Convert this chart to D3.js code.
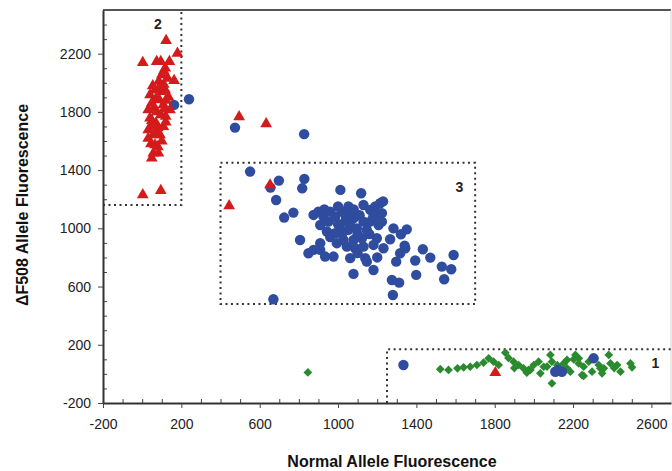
<!DOCTYPE html>
<html>
<head>
<meta charset="utf-8">
<script src="https://cdn.jsdelivr.net/npm/d3@7"></script>
<style>
  body { margin: 0; background: #fff; }
  svg { font-family: "Liberation Sans", Arial, sans-serif; }
</style>
</head>
<body>
<div id="chart"></div>
<script>
// genotype clusters: [normal, deltaF508]
const wildType = [
  [846,10],
  [1522,32],[1564,27],[1610,38],[1641,45],[1675,49],[1709,61],[1743,77],[1769,107],[1794,84],
  [1820,61],[1854,146],[1870,110],[1896,84],[1922,61],[1947,38],[1973,27],[1999,61],[2024,84],
  [2050,49],[2084,130],[2092,84],[2092,-65],[2152,72],[2169,38],[2203,100],[2212,130],[2229,72],
  [2254,49],[2280,84],[2254,-14],[2331,61],[2357,38],[2382,130],[2391,72],[2425,61],[2442,15],
  [2493,72],[2501,45],[2297,15],[2186,15],[2033,4],[1964,8],[1982,27],[2067,50],[2169,96],
  [2229,107],[2246,-8],[2339,38],[2348,4],[2410,40],[2120,60],[1900,40]
];

const heterozygous = [
  [163,1848],[239,1887],[474,1692],[827,1647],
  [551,1390],[698,1328],[655,1280],[684,1195],[828,1340],[817,1275],[1012,1264],[1118,1241],
  [725,1074],[772,1108],[806,920],[849,829],[875,852],[909,852],[934,806],[977,806],
  [875,1092],[900,1115],[926,1080],[960,1115],[951,1046],[909,1023],[985,1080],[1020,1115],
  [1053,1104],[1079,1069],[1036,1046],[1011,989],[985,966],[1053,989],[1096,1000],[1130,1046],
  [1164,1127],[1190,1150],[1215,1172],[1207,1092],[1164,1046],[1207,1023],[1147,989],[1198,932],
  [1122,932],[1079,920],[1028,920],[994,898],[1045,874],[1087,863],[1130,874],[1181,886],
  [1232,863],[909,898],[1062,795],[1139,795],[1147,771],[1181,714],[1079,687],[1053,1150],
  [943,978],[1000,1030],[1060,1030],[1100,960],[960,940],[1020,960],[1110,1090],[1160,960],
  [1040,1080],[1080,1130],[1000,1150],[930,1130],[1130,1160],[1180,1080],
  [1224,1104],[1224,1046],[1283,1000],[1351,993],[1321,959],[1266,925],[1343,863],[1317,829],
  [1297,771],[1433,856],[1471,799],[1394,779],[1399,680],[1275,645],[1312,627],[1280,542],
  [1590,817],[1530,737],[1578,719],[1542,650],[1230,1185],[1340,880],[1100,830],[1200,800],
  [670,513],[1334,61],[2305,107],[2126,27],[2143,15],[2109,15]
];

const homozygous = [
  [122,2290],[180,2203],[3,2139],[74,2146],[95,2146],[139,2146],[118,2100],[101,2054],[163,2015],
  [54,1979],[91,1974],[117,1951],[40,1917],[88,1883],[49,1860],[108,1848],[31,1814],[75,1800],
  [142,1814],[40,1757],[71,1722],[108,1699],[31,1676],[57,1642],[91,1642],[31,1619],[66,1573],
  [57,1516],[83,1516],[49,1482],[3,1230],[95,1259],
  [110,2080],[130,2030],[85,2010],[100,1940],[70,1890],[120,1880],[60,1830],[95,1780],[120,1770],
  [50,1740],[80,1690],[45,1700],[120,1730],[70,1660],[100,1600],[45,1580],[80,1560],[115,1820],
  [135,1900],[65,1950],[110,1990],
  [495,1766],[633,1718],[653,1298],[444,1154],[1803,8]
];

// gating boxes: [x0, x1, y0, y1, label]
const boxes = [
  [1250, 2700, -200, 170, "1"],
  [-200, 200, 1160, 2500, "2"],
  [400, 1700, 480, 1450, "3"]
];
const boxLabels = [[2620, 75], [80, 2400], [1620, 1280]];

const xTicks = [-200, 200, 600, 1000, 1400, 1800, 2200, 2600];
const yTicks = [-200, 200, 600, 1000, 1400, 1800, 2200];

const margin = {top: 10, right: 1, bottom: 68, left: 103};
const width = 672 - margin.left - margin.right;
const height = 471 - margin.top - margin.bottom;

const svg = d3.select("#chart").append("svg")
    .attr("width", 672)
    .attr("height", 471);

const g = svg.append("g")
    .attr("transform", "translate(" + margin.left + "," + margin.top + ")");

const x = d3.scaleLinear().domain([-200, 2700]).range([0, width]);
const y = d3.scaleLinear().domain([-200, 2500]).range([height, 0]);

// frame
g.append("line").attr("x1", 0).attr("x2", width).attr("y1", 0).attr("y2", 0)
    .attr("stroke", "#555").attr("stroke-width", 2);
g.append("line").attr("x1", width).attr("x2", width).attr("y1", 0).attr("y2", height)
    .attr("stroke", "#d4d4d4").attr("stroke-width", 1);

// dotted boxes
boxes.forEach(b => {
  const path = d3.path();
  if (b[4] === "1") {
    path.moveTo(x(b[0]), y(b[2]));
    path.lineTo(x(b[0]), y(b[3]));
    path.lineTo(x(b[1]), y(b[3]));
  } else if (b[4] === "2") {
    path.moveTo(x(b[0]), y(b[2]));
    path.lineTo(x(b[1]), y(b[2]));
    path.lineTo(x(b[1]), y(b[3]));
  } else {
    path.rect(x(b[0]), y(b[3]), x(b[1]) - x(b[0]), y(b[2]) - y(b[3]));
  }
  g.append("path").attr("d", path.toString())
      .attr("fill", "none").attr("stroke", "#333")
      .attr("stroke-width", 2).attr("stroke-dasharray", "2,3.5");
});

g.selectAll(".boxlabel").data(boxes).enter().append("text")
    .attr("class", "boxlabel")
    .attr("x", (d, i) => x(boxLabels[i][0]))
    .attr("y", (d, i) => y(boxLabels[i][1]))
    .attr("text-anchor", "middle").attr("dy", "0.35em")
    .style("font-size", "14px").style("font-weight", "bold").style("fill", "#222")
    .text(d => d[4]);

// points
g.selectAll(".wt").data(wildType).enter().append("path")
    .attr("class", "wt")
    .attr("transform", d => "translate(" + x(d[0]) + "," + y(d[1]) + ") rotate(45)")
    .attr("d", d3.symbol().type(d3.symbolSquare).size(38))
    .attr("fill", "#2a8a2e");

g.selectAll(".het").data(heterozygous).enter().append("circle")
    .attr("class", "het")
    .attr("cx", d => x(d[0]))
    .attr("cy", d => y(d[1]))
    .attr("r", 5.2)
    .attr("fill", "#2f4c9e");

g.selectAll(".hom").data(homozygous).enter().append("path")
    .attr("class", "hom")
    .attr("transform", d => "translate(" + x(d[0]) + "," + y(d[1]) + ")")
    .attr("d", d3.symbol().type(d3.symbolTriangle).size(60))
    .attr("fill", "#d41b1b");

// axes: major ticks outward, minor ticks inward
const xMinor = d3.range(-100, 2700, 100).filter(v => !xTicks.includes(v));
const yMinor = d3.range(-100, 2500, 100).filter(v => !yTicks.includes(v));

g.append("g")
    .attr("transform", "translate(0," + height + ")")
    .call(d3.axisBottom(x).tickValues(xMinor).tickSize(-4).tickSizeOuter(0).tickFormat(""))
    .call(a => a.select(".domain").remove())
    .selectAll("line").attr("stroke", "#444");

g.append("g")
    .call(d3.axisLeft(y).tickValues(yMinor).tickSize(-4).tickSizeOuter(0).tickFormat(""))
    .call(a => a.select(".domain").remove())
    .selectAll("line").attr("stroke", "#444");

const xAxis = g.append("g")
    .attr("transform", "translate(0," + height + ")")
    .call(d3.axisBottom(x).tickValues(xTicks).tickSize(5).tickSizeOuter(0).tickPadding(11).tickFormat(d => String(d)));
xAxis.select(".domain").attr("stroke", "#333").attr("stroke-width", 2);
xAxis.selectAll("line").attr("stroke", "#444");
xAxis.selectAll("text").style("font-size", "14px").style("fill", "#222");

const yAxis = g.append("g")
    .call(d3.axisLeft(y).tickValues(yTicks).tickSize(5).tickSizeOuter(0).tickPadding(7).tickFormat(d => String(d)));
yAxis.select(".domain").attr("stroke", "#333").attr("stroke-width", 2);
yAxis.selectAll("line").attr("stroke", "#444");
yAxis.selectAll("text").style("font-size", "14px").style("fill", "#222");

// axis titles
svg.append("text")
    .attr("x", 392).attr("y", 467)
    .attr("text-anchor", "middle")
    .style("font-size", "16px").style("font-weight", "bold").style("fill", "#111")
    .text("Normal Allele Fluorescence");

svg.append("text")
    .attr("transform", "translate(28,205) rotate(-90)")
    .attr("text-anchor", "middle")
    .style("font-size", "16px").style("font-weight", "bold").style("fill", "#111")
    .text("ΔF508 Allele Fluorescence");
</script>
</body>
</html>
